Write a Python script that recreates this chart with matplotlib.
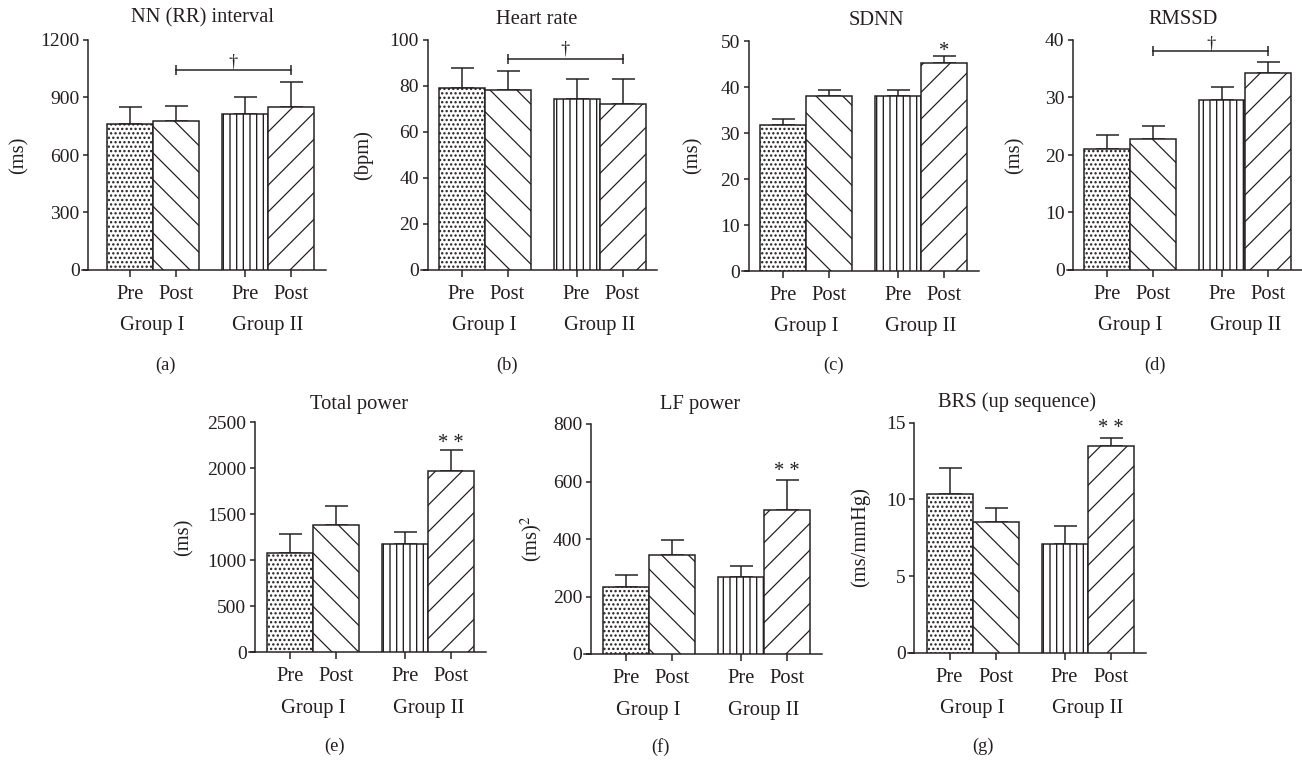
import numpy as np
import matplotlib
matplotlib.use("Agg")
import matplotlib.pyplot as plt
import matplotlib.transforms as mtransforms

# ---------------- data ----------------
bar_labels = ["Pre", "Post", "Pre", "Post"]
group_labels = ["Group I", "Group II"]
panel_letters = ["(a)", "(b)", "(c)", "(d)", "(e)", "(f)", "(g)"]
titles = ["NN (RR) interval", "Heart rate", "SDNN", "RMSSD",
          "Total power", "LF power", "BRS (up sequence)"]
ylabels = ["(ms)", "(bpm)", "(ms)", "(ms)", "(ms)", "(ms)$^2$", "(ms/mmHg)"]

nn_mean = [760, 775, 813, 850]
nn_err = [88, 82, 92, 131]
hr_mean = [79.3, 78.2, 74.4, 72.0]
hr_err = [8.7, 8.3, 8.8, 11.0]
sdnn_mean = [31.7, 38.0, 38.0, 45.3]
sdnn_err = [1.3, 1.3, 1.4, 1.4]
rmssd_mean = [21.0, 22.7, 29.5, 34.3]
rmssd_err = [2.4, 2.3, 2.4, 1.8]
tp_mean = [1083, 1388, 1174, 1968]
tp_err = [203, 206, 130, 231]
lf_mean = [232, 344, 268, 500]
lf_err = [43, 54, 38, 105]
brs_mean = [10.35, 8.52, 7.09, 13.46]
brs_err = [1.72, 0.91, 1.19, 0.56]

yticks = [
    [0, 300, 600, 900, 1200],
    [0, 20, 40, 60, 80, 100],
    [0, 10, 20, 30, 40, 50],
    [0, 10, 20, 30, 40],
    [0, 500, 1000, 1500, 2000, 2500],
    [0, 200, 400, 600, 800],
    [0, 5, 10, 15],
]

# significance marks: (bracket level, dagger level) and (text, level)
dagger_bracket = {0: (1043, 1087), 1: (91.6, 96.0), 3: (38.0, 39.3)}
star_marks = {2: ("*", 47.8), 4: ("* *", 2270), 5: ("* *", 635), 6: ("* *", 14.65)}

means = [nn_mean, hr_mean, sdnn_mean, rmssd_mean, tp_mean, lf_mean, brs_mean]
errs = [nn_err, hr_err, sdnn_err, rmssd_err, tp_err, lf_err, brs_err]

# ---------------- style ----------------
DPI = 80
W, H = 1302, 761
DARK = "#231f20"
plt.rcParams["font.family"] = ["Liberation Serif", "DejaVu Serif"]
plt.rcParams["mathtext.fontset"] = "stix"
plt.rcParams["hatch.linewidth"] = 1.1
plt.rcParams["hatch.color"] = DARK

FS = 18.5
TFS = 17.5
PT = 72.0 / DPI  # points per pixel

hatches = ["...", "\\", "||", "/"]
hatch_lw = [1.35, 1.1, 1.2, 1.1]
xpos = np.array([0.0, 1.0, 2.5, 3.5])
group_x = [0.5, 3.0]

# layout in pixels: y-axis x, gap to first bar, top, bottom
layout = [
    (88.3, 18.4, 40, 270),
    (427.5, 11.0, 40, 270),
    (748.5, 11.5, 41, 271),
    (1073.0, 11.3, 40, 270),
    (255.0, 12.3, 422.3, 652.3),
    (590.7, 12.0, 424, 654),
    (914.3, 12.3, 422.7, 652.7),
]
title_pos = [(202.5, 18), (536.5, 20), (876.7, 20.5), (1183.5, 20),
             (359, 405), (700, 405), (1016.7, 401.7)]
ylabel_pos = [(19, 155), (363.5, 155), (693, 155), (1015, 155),
              (184, 537), (531.7, 539), (860, 537)]
letter_pos = [(165, 365), (507, 365), (833, 365), (1155, 365),
              (335, 746.7), (660, 746.7), (983, 746.7)]

PXU = 46.0  # pixels per bar width
XRIGHT = 4.26

fig = plt.figure(figsize=(W / DPI, H / DPI), dpi=DPI)
fig.patch.set_facecolor("white")


def fx(px):
    return px / W


def fy(py):
    return 1 - py / H


for i in range(7):
    yax, gap, top, bot = layout[i]
    xleft = -0.5 - (gap + 6.5) / PXU
    ax_left_px = yax - 6.5
    ax_w_px = (XRIGHT - xleft) * PXU
    ax = fig.add_axes([fx(ax_left_px), fy(bot), ax_w_px / W, (bot - top) / H])
    ax.set_xlim(xleft, XRIGHT)
    ax.set_ylim(0, yticks[i][-1])
    ax.set_facecolor("none")

    bars = ax.bar(xpos, means[i], width=1.0, color="white", edgecolor=DARK,
                  linewidth=1.5 * PT, zorder=3)
    for b, h, hl in zip(bars, hatches, hatch_lw):
        b.set_hatch(h)
        if hasattr(b, "set_hatch_linewidth"):
            b.set_hatch_linewidth(hl)
    ax.errorbar(xpos, means[i], yerr=[np.zeros(4), errs[i]], fmt="none",
                ecolor=DARK, elinewidth=1.5 * PT, capsize=11.5 * PT,
                capthick=1.5 * PT, zorder=2)

    for s in ["top", "right"]:
        ax.spines[s].set_visible(False)
    ax.spines["left"].set_position(("data", -0.5 - gap / PXU))
    for s in ["left", "bottom"]:
        ax.spines[s].set_linewidth(1.5 * PT)
        ax.spines[s].set_color(DARK)
    ax.spines["left"].set_zorder(4)

    ax.set_yticks(yticks[i])
    ax.set_yticklabels([str(t) for t in yticks[i]], fontsize=TFS, color=DARK)
    ax.tick_params(axis="y", direction="out", length=5.5 * PT, width=1.5 * PT,
                   pad=3 * PT, colors=DARK)
    ax.set_xticks(xpos)
    ax.set_xticklabels([])
    ax.tick_params(axis="x", direction="out", length=7 * PT, width=1.5 * PT,
                   colors=DARK)

    # category labels
    tr1 = mtransforms.offset_copy(ax.get_xaxis_transform(), fig=fig,
                                  y=-24.5 * PT, units="points")
    tr2 = mtransforms.offset_copy(ax.get_xaxis_transform(), fig=fig,
                                  y=-56 * PT, units="points")
    for x, lab in zip(xpos, bar_labels):
        ax.text(x, 0, lab, transform=tr1, ha="center", va="center",
                fontsize=FS, color=DARK)
    for x, lab in zip(group_x, group_labels):
        ax.text(x, 0, lab, transform=tr2, ha="center", va="center",
                fontsize=FS, color=DARK)

    # significance
    if i in dagger_bracket:
        lvl, dlvl = dagger_bracket[i]
        ax.plot([xpos[1], xpos[3]], [lvl, lvl], color=DARK, lw=1.5 * PT,
                marker="|", markersize=10 * PT, markeredgewidth=1.5 * PT,
                clip_on=False, zorder=5)
        ax.text((xpos[1] + xpos[3]) / 2, dlvl, "\u2020", ha="center",
                va="center", fontsize=FS - 2, color=DARK, clip_on=False)
    if i in star_marks:
        txt, lvl = star_marks[i]
        ax.text(xpos[3], lvl, txt, ha="center", va="center", fontsize=FS,
                color=DARK, clip_on=False)

    fig.text(fx(title_pos[i][0]), fy(title_pos[i][1]), titles[i],
             ha="center", va="center", fontsize=FS, color=DARK)
    fig.text(fx(ylabel_pos[i][0]), fy(ylabel_pos[i][1]), ylabels[i],
             ha="center", va="center", rotation=90, fontsize=FS, color=DARK)
    fig.text(fx(letter_pos[i][0]), fy(letter_pos[i][1]), panel_letters[i],
             ha="center", va="center", fontsize=FS - 2, color=DARK)

fig.savefig("out.png", dpi=DPI, facecolor="white")
